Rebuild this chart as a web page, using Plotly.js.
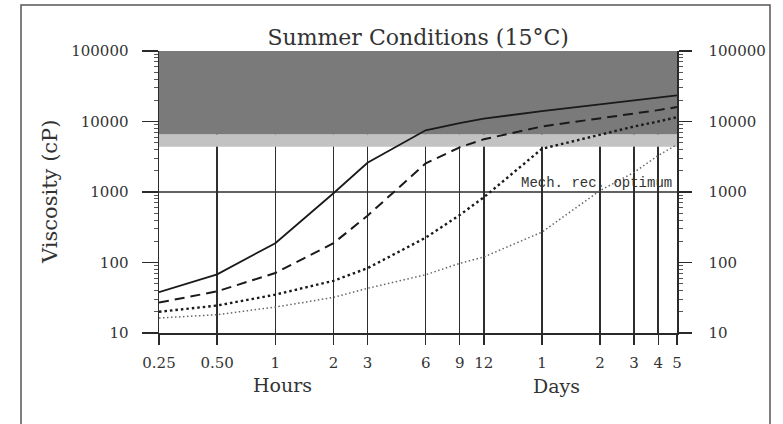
<!DOCTYPE html>
<html>
<head>
<meta charset="utf-8">
<script src="https://cdn.plot.ly/plotly-3.0.1.min.js"></script>
<style>html,body{margin:0;padding:0;background:#fff;}#chart{width:783px;height:424px;}</style>
</head>
<body>
<div id="chart"></div>
<script>
// Time since start, in hours (log axis)
const timeHours = [0.25, 0.5, 1, 2, 3, 6, 9, 12, 24, 48, 72, 96, 120];
const tickLabels = ['0.25', '0.50', '1', '2', '3', '6', '9', '12', '1', '2', '3', '4', '5'];

// Viscosity (cP) curves
const viscositySolid  = [38, 68, 188, 960, 2600, 7500, 9500, 11000, 14000, 17500, 19500, 21500, 23500];
const viscosityDashed = [27, 39, 71, 188, 460, 2550, 4300, 5600, 8500, 11000, 13000, 14500, 16000];
const viscosityDotted = [20, 24.5, 35, 55, 83, 225, 470, 840, 4100, 6500, 8500, 10000, 11500];
const viscosityFine   = [16.3, 18.2, 23.3, 32, 43, 67, 97, 120, 270, 1050, 1900, 3300, 4700];

const yTickVals = [10, 100, 1000, 10000, 100000];
const yTickText = ['10', '100', '1000', '10000', '100000'];
const darkBand = [6600, 100000];
const lightBand = [4400, 6600];
const optimumViscosity = 1000;

const serif = 'DejaVu Serif';
const ink = '#2a2a2a';
const t0 = timeHours[0], tN = timeHours[timeHours.length - 1];

function band(range, color) {
  return {x: [t0, tN, tN, t0, t0], y: [range[0], range[0], range[1], range[1], range[0]],
          mode: 'none', fill: 'toself', fillcolor: color, hoverinfo: 'skip'};
}

const traces = [
  band(lightBand, '#c2c2c2'),
  band(darkBand, '#7a7a7a'),
  {x: [t0, tN], y: [optimumViscosity, optimumViscosity], mode: 'lines', line: {color: '#2e2e2e', width: 1.5}, hoverinfo: 'skip'},
  {x: timeHours, y: viscositySolid, mode: 'lines', line: {color: '#1a1a1a', width: 1.8}},
  {x: timeHours, y: viscosityDashed, mode: 'lines', line: {color: '#1a1a1a', width: 2, dash: '10px,6px'}},
  {x: timeHours, y: viscosityDotted, mode: 'lines', line: {color: '#1a1a1a', width: 2.4, dash: '2.5px,3px'}},
  {x: timeHours, y: viscosityFine, mode: 'lines', line: {color: '#666', width: 1.5, dash: '1.5px,2.5px'}},
  {x: timeHours, y: viscositySolid, mode: 'lines', yaxis: 'y2', opacity: 0, hoverinfo: 'skip', line: {width: 0}}
];

const yCommon = {
  type: 'log', range: [1, 5], tickmode: 'array', tickvals: yTickVals, ticktext: yTickText,
  ticks: 'outside', tickwidth: 1.5, tickcolor: ink, showline: true, linecolor: ink, linewidth: 1.5,
  showgrid: false, zeroline: false,
  tickfont: {family: serif, size: 15, color: '#333'},
  minor: {dtick: 'D1', ticks: 'outside', ticklen: 4, tickwidth: 1, tickcolor: '#555', showgrid: false}
};

const layout = {
  width: 783, height: 424,
  margin: {l: 159, r: 106, t: 51, b: 91, pad: 0},
  paper_bgcolor: '#fff', plot_bgcolor: '#fff',
  showlegend: false,
  title: {text: 'Summer Conditions (15°C)', font: {family: serif, size: 22, color: '#333'},
          x: 0.534, xanchor: 'center', xref: 'container', y: 0.913, yanchor: 'middle', yref: 'container'},
  xaxis: {
    type: 'log', range: [Math.log10(t0), Math.log10(tN)],
    tickmode: 'array', tickvals: timeHours, ticktext: tickLabels,
    ticks: 'outside', ticklen: 10, tickwidth: 1.5, tickcolor: ink,
    showgrid: true, gridcolor: '#2e2e2e', gridwidth: 1.6,
    showline: true, linecolor: ink, linewidth: 2, zeroline: false,
    ticklabelstandoff: 5,
    tickfont: {family: serif, size: 15, color: '#333'}
  },
  yaxis: Object.assign({}, yCommon, {ticklen: 16, ticklabelstandoff: 10}),
  yaxis2: Object.assign({}, yCommon, {overlaying: 'y', side: 'right', anchor: 'x', ticklen: 13, ticklabelstandoff: 14}),
  shapes: [
    {type: 'rect', xref: 'paper', yref: 'paper', x0: -0.2664, x1: 1.1795, y0: -0.36, y1: 1.163,
     fillcolor: 'rgba(0,0,0,0)', line: {color: '#555', width: 1.5}}
  ],
  annotations: [
    {text: 'Viscosity (cP)', xref: 'paper', yref: 'paper', x: -0.2104, y: 0.5, textangle: -90,
     showarrow: false, xanchor: 'center', yanchor: 'middle', font: {family: serif, size: 21, color: '#333'}},
    {text: 'Hours', xref: 'paper', yref: 'paper', x: 0.2375, y: -0.185, showarrow: false,
     xanchor: 'center', yanchor: 'middle', font: {family: serif, size: 19, color: '#333'}},
    {text: 'Days', xref: 'paper', yref: 'paper', x: 0.768, y: -0.189, showarrow: false,
     xanchor: 'center', yanchor: 'middle', font: {family: serif, size: 19, color: '#333'}},
    {text: 'Mech. rec. optimum', xref: 'paper', yref: 'y', x: 0.994, y: Math.log10(optimumViscosity),
     showarrow: false, xanchor: 'right', yanchor: 'bottom', yshift: -1,
     font: {family: 'Liberation Mono', size: 14, color: '#333'}}
  ]
};

Plotly.newPlot('chart', traces, layout, {staticPlot: true, displayModeBar: false});
</script>
</body>
</html>
